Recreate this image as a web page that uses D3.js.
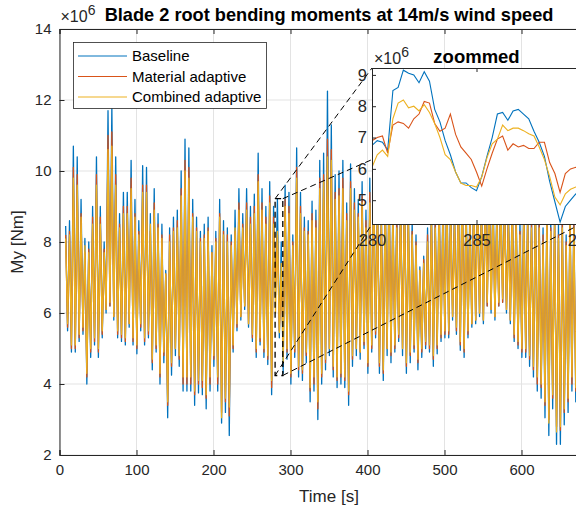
<!DOCTYPE html>
<html>
<head>
<meta charset="utf-8">
<script src="https://cdn.jsdelivr.net/npm/d3@7"></script>
<style>
  body { margin: 0; background: #fff; }
  svg { display: block; font-family: "Liberation Sans", Arial, sans-serif; }
</style>
</head>
<body>
<svg id="chart" width="576" height="510"></svg>
<script>
// series names + colours (matlab default order)
const seriesNames = ["Baseline", "Material adaptive", "Combined adaptive"];
const seriesColors = ["#0072BD", "#D95319", "#EDB120"];

// main plot: one peak + one trough per rotor cycle, first peak at 8 s, cycle 5 s
const firstPeak = 8, cycle = 5;

const baselinePeaks = [8.45,8.6,10.7,10.4,9.2,8.1,8.0,9.0,10.4,9.0, 8.0,11.7,11.8,10.4,8.8,9.4,9.4,10.3,9.2,8.6,
  10.15,10.1,8.8,9.5,8.8,8.5,7.2,8.4,8.7,8.9, 10.0,10.9,10.65,9.2,8.7,8.3,8.5,8.7,7.9,8.3,
  9.2,8.6,8.4,8.2,8.9,9.5,8.8,9.5,9.0,9.35, 10.5,9.5,9.0,9.7,9.0,9.2,8.0,9.6,9.4,8.2,
  10.65,9.4,8.7,8.6,9.15,8.9,10.3,10.5,12.25,11.3, 9.9,10.0,10.3,9.1,10.2,9.5,9.2,9.7,8.9,9.8,
  10.2,9.4,9.0,9.6,10.1,9.3,8.9,9.5,9.9,9.2, 8.6,8.2,7.3,7.6,8.4,9.1,8.8,9.6,9.3,10.0,
  9.4,9.0,9.8,10.3,9.5,9.1,9.7,9.9,9.3,9.8, 10.4,9.6,9.2,9.9,9.5,9.0,9.6,9.1,8.6,9.4,
  9.0,8.8,9.5,8.9,8.4,9.2,8.7,9.0,8.5,8.9, 8.2,9.1,8.8,9.3,8.7,9.0,9.4,8.9];
const baselineTroughs = [5.5,4.9,4.9,5.2,5.4,4.0,4.75,5.1,4.75,5.3, 6.0,6.2,5.8,5.3,5.2,5.1,5.6,5.1,4.85,5.5,
  5.1,5.3,4.4,4.9,4.0,4.6,3.05,4.25,4.8,4.5, 3.8,3.8,3.8,3.4,3.75,3.7,3.3,3.8,4.5,3.8,
  2.9,3.2,2.55,4.9,5.5,5.8,6.1,5.6,5.2,4.75, 5.1,4.75,4.55,3.7,6.5,5.3,4.3,4.7,4.0,4.75,
  4.2,4.1,4.6,3.5,3.8,3.0,4.0,4.4,4.8,4.2, 3.9,4.0,3.9,3.4,4.5,4.8,4.7,5.0,4.3,4.9,
  5.3,4.3,4.1,4.8,4.6,4.9,5.2,4.8,4.3,4.6, 4.9,4.4,4.75,5.0,4.9,4.5,4.85,5.2,5.3,5.3,
  5.8,5.4,4.95,4.75,5.3,5.6,5.7,5.9,5.7,6.2, 6.0,5.8,6.2,6.3,6.0,5.7,5.2,5.0,4.75,4.75,
  4.5,4.2,3.8,3.6,3.05,2.55,3.3,2.3,2.3,2.85, 3.2,3.8,3.5,3.9,4.2,4.0,4.4,4.6];

const materialPeaks = [8.2,8.3,10.1,9.9,8.8,7.7,7.8,8.7,9.9,8.7, 7.8,11.0,11.1,9.9,8.5,9.0,9.0,9.8,8.8,8.3,
  9.6,9.6,8.3,9.1,8.5,8.2,7.1,8.2,8.4,8.6, 9.5,10.3,10.1,8.8,8.4,8.1,8.2,8.4,7.7,8.1,
  8.8,8.3,8.2,8.0,8.3,9.1,8.5,9.1,8.7,9.0, 9.9,9.1,8.7,9.3,8.7,8.2,7.0,9.2,9.0,8.0,
  10.1,9.0,8.4,8.3,8.8,8.6,9.8,9.9,10.9,10.6, 9.4,9.5,9.8,8.8,9.7,9.1,8.8,9.3,8.6,9.4,
  9.7,9.0,8.7,9.2,9.6,8.9,8.6,9.1,9.4,8.8, 8.3,8.0,7.2,7.5,8.2,8.8,8.5,9.2,8.9,9.5,
  9.0,8.7,9.4,9.8,9.1,8.8,9.3,9.4,8.9,9.4, 9.9,9.2,8.8,9.4,9.1,8.7,9.2,8.8,8.3,9.0,
  8.7,8.5,9.1,8.6,8.2,8.8,8.4,8.7,8.2,8.6, 8.0,8.8,8.5,8.9,8.4,8.7,9.0,8.6];
const materialTroughs = [5.6,5.0,5.0,5.3,5.5,4.2,4.9,5.2,4.9,5.4, 6.1,6.2,5.9,5.4,5.3,5.2,5.7,5.2,5.0,5.6,
  5.2,5.4,4.6,5.0,4.2,4.8,3.4,4.5,5.0,4.7, 4.0,4.0,4.0,3.7,4.0,3.9,3.6,4.0,4.7,4.0,
  3.2,3.5,3.1,5.0,5.6,5.9,6.2,5.7,5.3,4.9, 5.2,4.9,4.7,3.9,6.8,5.5,5.1,4.9,4.2,4.9,
  4.4,4.3,4.8,3.8,4.0,3.3,4.2,4.6,5.0,4.4, 4.1,4.2,4.1,3.7,4.7,5.0,4.9,5.1,4.5,5.0,
  5.4,4.5,4.3,5.0,4.8,5.0,5.3,5.0,4.5,4.8, 5.0,4.6,4.9,5.1,5.0,4.7,5.0,5.3,5.4,5.4,
  5.9,5.5,5.1,4.9,5.4,5.7,5.8,6.0,5.8,6.2, 6.1,5.9,6.2,6.3,6.1,5.8,5.3,5.1,4.9,4.9,
  4.7,4.4,4.0,3.9,3.4,3.0,3.6,2.8,2.7,3.2, 3.5,4.0,3.8,4.1,4.4,4.2,4.6,4.8];

const combinedPeaks = [8.1,8.2,9.8,9.6,8.7,7.9,7.7,8.5,9.6,8.5, 7.7,10.6,10.7,9.6,8.4,8.8,8.8,9.5,8.7,8.2,
  9.4,9.4,8.5,8.9,8.4,8.1,7.1,8.0,8.3,8.4, 9.3,10.0,9.8,8.7,8.3,8.0,8.1,8.3,7.7,8.0,
  8.7,8.2,8.0,7.9,8.4,8.9,8.4,8.9,8.5,8.8, 9.7,8.9,8.5,9.1,8.5,8.3,7.4,9.0,8.8,7.9,
  9.8,8.8,8.3,8.2,8.6,8.4,9.5,9.7,10.4,10.3, 9.2,9.3,9.5,8.6,9.5,8.9,8.7,9.1,8.4,9.1,
  9.5,8.8,8.5,9.0,9.4,8.8,8.4,8.9,9.2,8.7, 8.2,7.9,7.2,7.4,8.0,8.6,8.4,9.0,8.8,9.3,
  8.8,8.5,9.1,9.5,8.9,8.6,9.1,9.2,8.8,9.1, 9.6,9.0,8.7,9.2,8.9,8.5,9.0,8.6,8.2,8.8,
  8.5,8.4,8.9,8.4,8.0,8.7,8.3,8.5,8.1,8.4, 7.9,8.6,8.4,8.8,8.3,8.5,8.8,8.4];
const combinedTroughs = [5.7,5.1,5.1,5.4,5.6,4.3,5.0,5.3,5.0,5.5, 6.1,6.3,5.9,5.5,5.4,5.3,5.7,5.3,5.1,5.7,
  5.3,5.5,4.7,5.1,4.3,4.9,3.5,4.6,5.0,4.8, 4.2,4.2,4.2,3.8,4.1,4.1,3.7,4.2,4.8,4.2,
  3.05,3.6,3.35,5.1,5.7,5.9,6.2,5.7,5.4,5.0, 5.3,5.0,4.8,4.1,6.0,5.45,4.6,5.0,4.3,5.0,
  4.5,4.4,4.9,3.9,4.2,3.5,4.3,4.7,5.0,4.5, 4.2,4.3,4.2,3.8,4.8,5.0,4.9,5.2,4.6,5.1,
  5.5,4.6,4.4,5.0,4.9,5.1,5.4,5.0,4.6,4.9, 5.1,4.7,5.0,5.2,5.1,4.8,5.1,5.4,5.5,5.5,
  5.9,5.6,5.2,5.0,5.5,5.7,5.8,6.0,5.8,6.3, 6.1,5.9,6.3,6.4,6.1,5.8,5.4,5.2,5.0,5.0,
  4.8,4.5,4.2,4.0,3.5,2.9,3.7,2.65,2.8,3.3, 3.6,4.2,3.9,4.2,4.5,4.3,4.7,4.9];

// zoomed window 280..290 s, sampled every 0.25 s
const zoomStart = 280, zoomStep = 0.25;
const zoomBaseline = [6.75,6.9,6.85,6.6,8.5,8.6,9.15,9.05,9.0,8.75,9.1,8.8,7.9,7.5,6.9,6.45,5.9,5.55,5.55,5.4,
  5.3,5.75,6.4,7.0,7.75,7.8,7.55,7.85,7.9,7.75,7.6,7.2,6.85,6.4,5.6,4.95,4.3,4.8,5.0,5.2,5.15];
const zoomMaterial = [6.9,7.0,7.05,6.5,7.4,7.5,7.45,7.3,7.6,7.75,8.15,8.1,7.45,7.2,7.3,7.75,7.1,6.7,6.5,6.3,
  5.9,5.45,6.0,6.5,6.95,7.05,6.6,6.8,6.7,6.75,6.65,6.65,6.85,6.85,6.2,5.85,5.25,5.85,6.0,6.05,6.0];
const zoomCombined = [6.05,6.45,6.6,6.4,7.6,8.1,8.2,7.95,8.0,7.85,8.05,7.8,7.45,7.0,6.45,6.3,5.9,5.55,5.47,5.47,
  5.42,5.74,6.35,6.8,6.95,7.4,7.22,7.3,7.3,7.22,7.12,7.05,6.7,6.3,5.75,5.1,4.85,5.2,5.35,5.42,5.4];

// 700 is off the picture in the original, so only 0..600 are ticked
const xTicks = [0, 100, 200, 300, 400, 500, 600];
const yTicks = [2, 4, 6, 8, 10, 12, 14];
const zoomXTicks = [280, 285, 290];
const zoomYTicks = [5, 6, 7, 8, 9];
const zoomXRange = [280, 290], zoomYRange = [4.24, 9.22];

const svg = d3.select("#chart");
const ink = "#262626";

// ---------- main axes ----------
const L = 59.5, R = 598.5, T = 29, B = 455;
const x = d3.scaleLinear().domain([0, 700]).range([L, R]);
const y = d3.scaleLinear().domain([2, 14]).range([B, T]);

svg.append("clipPath").attr("id", "mainclip")
  .append("rect").attr("x", L).attr("y", T).attr("width", R - L).attr("height", B - T);
svg.append("clipPath").attr("id", "zoomclip")
  .append("rect").attr("x", 372).attr("y", 68).attr("width", 209).attr("height", 156);

// grid
const grid = svg.append("g");
xTicks.forEach(t => grid.append("line").attr("x1", x(t)).attr("x2", x(t)).attr("y1", T).attr("y2", B)
  .attr("stroke", "#e3e3e3").attr("stroke-width", 1));
yTicks.forEach(t => grid.append("line").attr("x1", L).attr("x2", R).attr("y1", y(t)).attr("y2", y(t))
  .attr("stroke", "#e3e3e3").attr("stroke-width", 1));

function cyclePoints(peaks, troughs) {
  let pts = [];
  peaks.forEach((p, k) => {
    pts.push([firstPeak + cycle * k, p]);
    pts.push([firstPeak + cycle * k + cycle / 2, troughs[k]]);
  });
  return pts;
}
const mainData = [
  cyclePoints(baselinePeaks, baselineTroughs),
  cyclePoints(materialPeaks, materialTroughs),
  cyclePoints(combinedPeaks, combinedTroughs)
];

const line = d3.line().x(d => x(d[0])).y(d => y(d[1]));
const plot = svg.append("g").attr("clip-path", "url(#mainclip)");
mainData.forEach((pts, i) => {
  plot.append("path").datum(pts).attr("d", line)
    .attr("fill", "none").attr("stroke", seriesColors[i]).attr("stroke-width", 1.3)
    .attr("stroke-linejoin", "round");
});

// axes with inward ticks
const xAxisB = svg.append("g").attr("transform", `translate(0,${B})`)
  .call(d3.axisBottom(x).tickValues(xTicks).tickSize(-5).tickPadding(9).tickFormat(d3.format("d")));
const xAxisT = svg.append("g").attr("transform", `translate(0,${T})`)
  .call(d3.axisTop(x).tickValues(xTicks).tickSize(-5).tickFormat(""));
const yAxisL = svg.append("g").attr("transform", `translate(${L},0)`)
  .call(d3.axisLeft(y).tickValues(yTicks).tickSize(-5).tickPadding(8).tickFormat(d3.format("d")));
[xAxisB, xAxisT, yAxisL].forEach(a => {
  a.selectAll("path").attr("stroke", ink).attr("stroke-width", 1);
  a.selectAll("line").attr("stroke", ink);
  a.selectAll("text").attr("fill", ink).style("font-size", "15px").style("font-family", "Liberation Sans, Arial, sans-serif");
});

// exponent
const expo = svg.append("text").attr("x", L + 1).attr("y", 22).attr("fill", ink).style("font-size", "16px");
expo.append("tspan").text("\u00d710");
expo.append("tspan").attr("dy", -7).style("font-size", "14px").text("6");

// title + labels
svg.append("text").attr("x", (L + R) / 2).attr("y", 21).attr("text-anchor", "middle")
  .style("font-size", "18.2px").style("font-weight", "bold").attr("fill", "#000")
  .text("Blade 2 root bending moments at 14m/s wind speed");
svg.append("text").attr("x", (L + R) / 2).attr("y", 502).attr("text-anchor", "middle")
  .style("font-size", "17px").attr("fill", ink).text("Time [s]");
svg.append("text").attr("transform", `translate(23,${(T + B) / 2}) rotate(-90)`).attr("text-anchor", "middle")
  .style("font-size", "17px").attr("fill", ink).text("My [Nm]");

// ---------- zoom marker + connectors ----------
const zx = d3.scaleLinear().domain(zoomXRange).range([372, 581]);
const zy = d3.scaleLinear().domain(zoomYRange).range([224, 68]);
const dash = "6,4";
const corners = [
  [[x(280), y(zoomYRange[1])], [zx(280), zy(zoomYRange[1])]],
  [[x(280), y(zoomYRange[0])], [zx(280), zy(zoomYRange[0])]],
  [[x(290), y(zoomYRange[0])], [zx(290), zy(zoomYRange[0])]],
  [[x(290), y(zoomYRange[1])], [zx(290), zy(zoomYRange[1])]]
];
corners.forEach(c => svg.append("line")
  .attr("x1", c[0][0]).attr("y1", c[0][1]).attr("x2", c[1][0]).attr("y2", c[1][1])
  .attr("stroke", "#000").attr("stroke-width", 1).attr("stroke-dasharray", dash));
svg.append("rect").attr("x", x(280)).attr("y", y(zoomYRange[1]))
  .attr("width", x(290) - x(280)).attr("height", y(zoomYRange[0]) - y(zoomYRange[1]))
  .attr("fill", "none").attr("stroke", "#000").attr("stroke-width", 1.3).attr("stroke-dasharray", dash);

// ---------- inset ----------
const inset = svg.append("g");
inset.append("rect").attr("x", 372).attr("y", 68).attr("width", 209).attr("height", 156).attr("fill", "#fff");
const zline = d3.line().x((d, i) => zx(zoomStart + zoomStep * i)).y(d => zy(d));
const zoomClip = inset.append("g").attr("clip-path", "url(#zoomclip)");
[zoomBaseline, zoomMaterial, zoomCombined].forEach((s, i) => {
  zoomClip.append("path").datum(s).attr("d", zline)
    .attr("fill", "none").attr("stroke", seriesColors[i]).attr("stroke-width", 1.1);
});
const zxB = inset.append("g").attr("transform", "translate(0,224)")
  .call(d3.axisBottom(zx).tickValues(zoomXTicks).tickSize(-4).tickPadding(10).tickFormat(d3.format("d")));
const zxT = inset.append("g").attr("transform", "translate(0,68)")
  .call(d3.axisTop(zx).tickValues(zoomXTicks).tickSize(-4).tickFormat(""));
const zyL = inset.append("g").attr("transform", "translate(372,0)")
  .call(d3.axisLeft(zy).tickValues(zoomYTicks).tickSize(-4).tickPadding(5).tickFormat(d3.format("d")));
[zxB, zxT, zyL].forEach(a => {
  a.selectAll("path").attr("stroke", ink).attr("stroke-width", 1);
  a.selectAll("line").attr("stroke", ink);
  a.selectAll("text").attr("fill", ink).style("font-size", "16.5px").style("font-family", "Liberation Sans, Arial, sans-serif");
});
const zexpo = inset.append("text").attr("x", 374).attr("y", 64).attr("fill", ink).style("font-size", "16px");
zexpo.append("tspan").text("\u00d710");
zexpo.append("tspan").attr("dy", -7).style("font-size", "14px").text("6");
inset.append("text").attr("x", 476.5).attr("y", 63).attr("text-anchor", "middle")
  .style("font-size", "18.5px").style("font-weight", "bold").attr("fill", "#000").text("zoommed");

// ---------- legend ----------
const lg = svg.append("g");
lg.append("rect").attr("x", 73.5).attr("y", 42.5).attr("width", 193).attr("height", 66)
  .attr("fill", "#fff").attr("stroke", ink).attr("stroke-width", 0.8);
seriesNames.forEach((name, i) => {
  const ly = 56 + i * 20.5;
  lg.append("line").attr("x1", 78).attr("x2", 127).attr("y1", ly).attr("y2", ly)
    .attr("stroke", seriesColors[i]).attr("stroke-width", 1);
  lg.append("text").attr("x", 132).attr("y", ly + 5).style("font-size", "15px").attr("fill", "#000").text(name);
});
</script>
</body>
</html>
